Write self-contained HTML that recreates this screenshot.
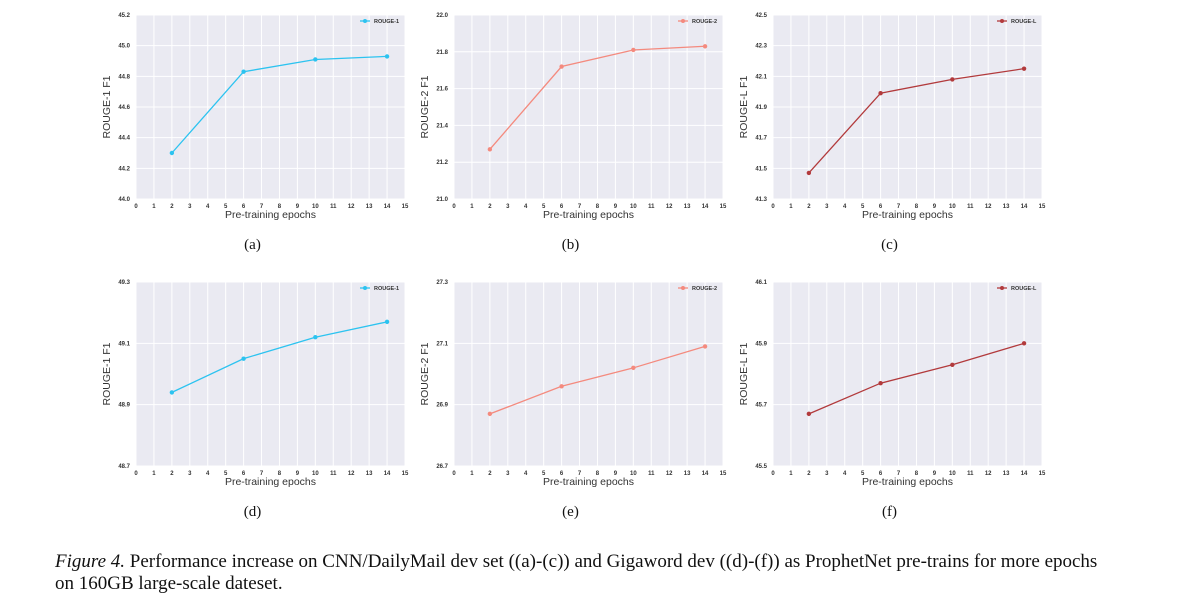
<!DOCTYPE html>
<html><head><meta charset="utf-8"><style>
body{margin:0;background:#fff;width:1199px;height:605px;overflow:hidden;position:relative;font-family:"Liberation Sans",sans-serif}
svg{position:absolute;left:0;top:0}
.cap{position:absolute;left:55px;top:551px;font-family:"Liberation Serif",serif;font-size:19px;line-height:22px;color:#111;width:1140px;white-space:nowrap}
</style></head><body>
<svg id="chart" width="1199" height="605" xmlns="http://www.w3.org/2000/svg"></svg>
<div class="cap"><i>Figure 4.</i> Performance increase on CNN/DailyMail dev set ((a)-(c)) and Gigaword dev ((d)-(f)) as ProphetNet pre-trains for more epochs<br>on 160GB large-scale dateset.</div>
<script>
const epochs=[2,6,10,14];
const xTicks=[0,1,2,3,4,5,6,7,8,9,10,11,12,13,14,15];
const seriesA=[44.30,44.83,44.91,44.93];
const seriesB=[21.27,21.72,21.81,21.83];
const seriesC=[41.47,41.99,42.08,42.15];
const seriesD=[48.94,49.05,49.12,49.17];
const seriesE=[26.87,26.96,27.02,27.09];
const seriesF=[45.67,45.77,45.83,45.90];
const ticksA=[44.0,44.2,44.4,44.6,44.8,45.0,45.2];
const ticksB=[21.0,21.2,21.4,21.6,21.8,22.0];
const ticksC=[41.3,41.5,41.7,41.9,42.1,42.3,42.5];
const ticksD=[48.7,48.9,49.1,49.3];
const ticksE=[26.7,26.9,27.1,27.3];
const ticksF=[45.5,45.7,45.9,46.1];
const panels=[
 {id:'a',x:136,y:15,vals:seriesA,ticks:ticksA,dec:1,name:'ROUGE-1',col:'#2cc3f0'},
 {id:'b',x:454,y:15,vals:seriesB,ticks:ticksB,dec:1,name:'ROUGE-2',col:'#f48a7e'},
 {id:'c',x:773,y:15,vals:seriesC,ticks:ticksC,dec:1,name:'ROUGE-L',col:'#b23a3c'},
 {id:'d',x:136,y:282,vals:seriesD,ticks:ticksD,dec:1,name:'ROUGE-1',col:'#2cc3f0'},
 {id:'e',x:454,y:282,vals:seriesE,ticks:ticksE,dec:1,name:'ROUGE-2',col:'#f48a7e'},
 {id:'f',x:773,y:282,vals:seriesF,ticks:ticksF,dec:1,name:'ROUGE-L',col:'#b23a3c'}
];
const NS='http://www.w3.org/2000/svg';
const svg=document.getElementById('chart');
function mk(tag,attrs,parent,txt){const e=document.createElementNS(NS,tag);for(const k in attrs)e.setAttribute(k,attrs[k]);if(txt!==undefined)e.textContent=txt;parent.appendChild(e);return e;}
const W=269,H=184;
panels.forEach(p=>{
 const g=mk('g',{},svg);
 
 
 const lo=p.ticks[0],hi=p.ticks[p.ticks.length-1];
 const sx=v=>p.x+v/15*W, sy=v=>p.y+H-(v-lo)/(hi-lo)*H;
 const bg=mk('rect',{x:p.x,y:p.y,width:W,height:H,fill:'#eaeaf2'},g);
 
 
 xTicks.forEach(t=>{
  mk('line',{x1:sx(t),x2:sx(t),y1:p.y,y2:p.y+H,stroke:'#fff','stroke-width':1},g);
  const tl=mk('text',{x:sx(t),y:p.y+H+9,'font-size':6,'font-weight':'bold','text-anchor':'middle',fill:'#333'},g,t);
  
  
 });
 p.ticks.forEach(t=>{
  mk('line',{x1:p.x,x2:p.x+W,y1:sy(t),y2:sy(t),stroke:'#fff','stroke-width':1},g);
  const tl=mk('text',{x:p.x-6,y:sy(t)+2,'font-size':6,'font-weight':'bold','text-anchor':'end',fill:'#333'},g,t.toFixed(p.dec));
  
  
 });
 const xt=mk('text',{x:p.x+W/2,y:p.y+H+19,'font-size':10.5,'text-anchor':'middle',fill:'#333'},g,'Pre-training epochs');
 
 
 const yx=p.x-26,yy=p.y+H/2;
 const yt=mk('text',{x:yx,y:yy,'font-size':10.5,'text-anchor':'middle',fill:'#333',transform:`rotate(-90 ${yx} ${yy})`},g,p.name+' F1');
 
 
 const pts=p.vals.map((v,i)=>sx(epochs[i])+','+sy(v)).join(' ');
 const ln=mk('polyline',{points:pts,fill:'none',stroke:p.col,'stroke-width':1.3},g);
 
 
 p.vals.forEach((v,i)=>{
  const c=mk('circle',{cx:sx(epochs[i]),cy:sy(v),r:2.2,fill:p.col},g);
  
  
 });
 const lg=mk('g',{},g);
 
 
 mk('line',{x1:p.x+W-45,x2:p.x+W-35,y1:p.y+6,y2:p.y+6,stroke:p.col,'stroke-width':1.3},lg);
 mk('circle',{cx:p.x+W-40,cy:p.y+6,r:2,fill:p.col},lg);
 mk('text',{x:p.x+W-31,y:p.y+8,'font-size':5.5,'font-weight':'bold',fill:'#333'},lg,p.name);
 const sl=mk('text',{x:p.x+W/2-18,y:p.y+H+50,'font-size':15,'font-family':'Liberation Serif,serif','text-anchor':'middle',fill:'#111'},g,'('+p.id+')');
 
 
});
</script>
</body></html>
